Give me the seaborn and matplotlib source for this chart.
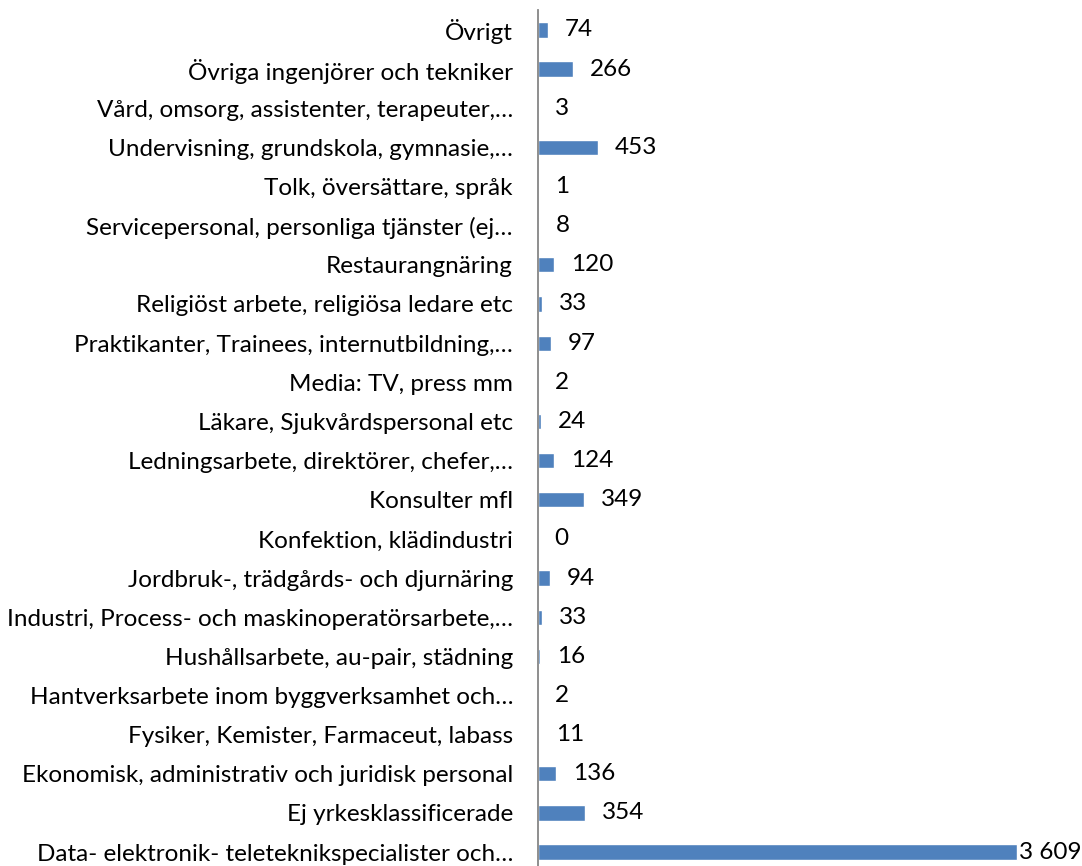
import matplotlib
matplotlib.use('Agg')
import matplotlib.pyplot as plt
import seaborn as sns
import pandas as pd

# categories top to bottom as shown in the chart
categories = [
    'Övrigt',
    'Övriga ingenjörer och tekniker',
    'Vård, omsorg, assistenter, terapeuter,…',
    'Undervisning, grundskola, gymnasie,…',
    'Tolk, översättare, språk',
    'Servicepersonal, personliga tjänster (ej…',
    'Restaurangnäring',
    'Religiöst arbete, religiösa ledare etc',
    'Praktikanter, Trainees, internutbildning,…',
    'Media: TV, press mm',
    'Läkare, Sjukvårdspersonal etc',
    'Ledningsarbete, direktörer, chefer,…',
    'Konsulter mfl',
    'Konfektion, klädindustri',
    'Jordbruk-, trädgårds- och djurnäring',
    'Industri, Process- och maskinoperatörsarbete,…',
    'Hushållsarbete, au-pair, städning',
    'Hantverksarbete inom byggverksamhet och…',
    'Fysiker, Kemister, Farmaceut, labass',
    'Ekonomisk, administrativ och juridisk personal',
    'Ej yrkesklassificerade',
    'Data- elektronik- teleteknikspecialister och…',
]
values = [74, 266, 3, 453, 1, 8, 120, 33, 97, 2, 24, 124, 349, 0, 94, 33, 16, 2, 11, 136, 354, 3609]

df = pd.DataFrame({'yrke': categories, 'antal': values})

sns.set_style('white')
plt.rcParams['font.family'] = ['Lato', 'DejaVu Sans']

fig = plt.figure(figsize=(10.82, 8.66), dpi=100)
ax = fig.add_axes([538 / 1082, -5.6 / 866, 1 - 538 / 1082, 861.2 / 866])

sns.barplot(data=df, x='antal', y='yrke', color='#4F81BD', width=0.39,
            saturation=1, ax=ax, orient='h')

ax.set_xlim(0, 4099)
ax.set_ylim(len(categories) - 0.5, -0.5)
ax.set_xlabel('')
ax.set_ylabel('')
ax.set_xticks([])
ax.tick_params(axis='y', length=0, pad=18, labelsize=17.5, labelcolor='black')
for s in ['top', 'right', 'bottom']:
    ax.spines[s].set_visible(False)
ax.spines['left'].set_color('#868686')
ax.spines['left'].set_linewidth(1.3)

# value labels, number with space as thousands separator
for i, v in enumerate(values):
    txt = f'{v:,}'.replace(',', ' ')
    off = 1.5 if v == max(values) else 12
    ax.annotate(txt, xy=(v, i), xytext=(off, 0), textcoords='offset points',
                va='center', ha='left', fontsize=17.5, color='black')

fig.savefig('out.png', dpi=100)
